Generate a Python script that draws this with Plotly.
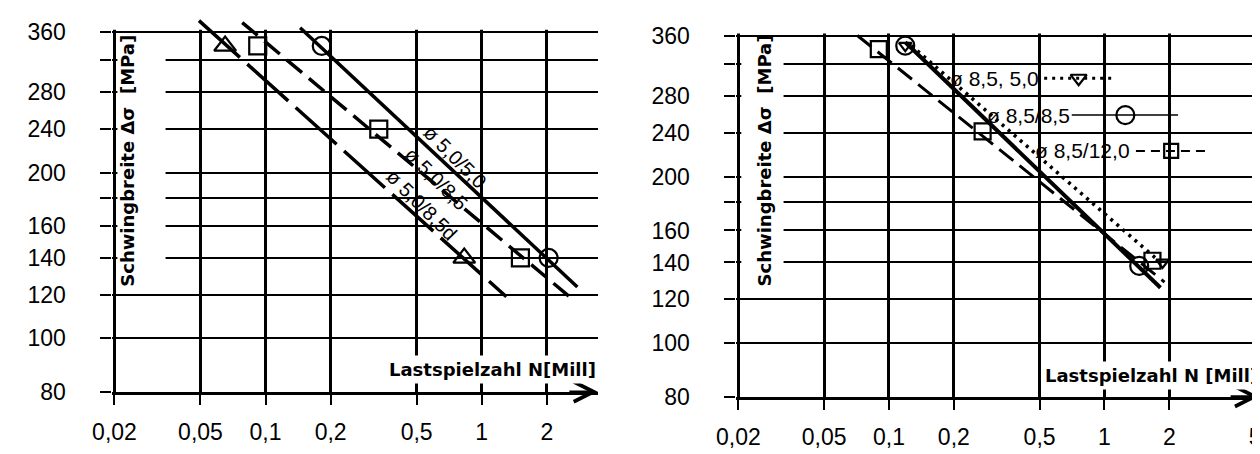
import numpy as np
import plotly.graph_objects as go

W, H = 1260, 454

# ---------------- data ----------------
# left panel: specimens dia 5,0
N_tri_L = [0.065, 0.83]
S_tri_L = [340, 140]
N_sq_L = [0.092, 0.334, 1.51]
S_sq_L = [340, 240, 140]
N_ci_L = [0.182, 2.04]
S_ci_L = [340, 140]
# fitted S-N lines (end points)
N_fit_50_50 = [0.1445, 2.77]
S_fit_50_50 = [367, 124]
N_fit_50_85 = [0.078, 2.55]
S_fit_50_85 = [375, 119]
N_fit_50_85d = [0.0492, 1.30]
S_fit_50_85d = [378, 119]

# right panel: specimens dia 8,5
N_sq_R = [0.0897, 0.272, 1.67]
S_sq_R = [341, 242, 141]
N_ci_R = [0.119, 1.45]
S_ci_R = [346, 138]
N_tr_R = [0.119, 1.86]
S_tr_R = [346, 140]
N_fit_85_85 = [0.119, 1.82]
S_fit_85_85 = [351, 126]
N_fit_85_120 = [0.0713, 1.90]
S_fit_85_120 = [361, 129]
N_fit_85_50 = [0.127, 1.86]
S_fit_85_50 = [346, 139]

# axes ticks
y_tickvals = [80, 100, 120, 140, 160, 180, 200, 240, 280, 320, 360]
y_ticktext = ["80", "100", "120", "140", "160", "", "200", "240", "280", "", "360"]
x_tickvals_L = [0.02, 0.05, 0.1, 0.2, 0.5, 1, 2]
x_ticktext_L = ["0,02", "0,05", "0,1", "0,2", "0,5", "1", "2"]
x_tickvals_R = [0.02, 0.05, 0.1, 0.2, 0.5, 1, 2, 5]
x_ticktext_R = ["0,02", "0,05", "0,1", "0,2", "0,5", "1", "2", "5"]

# legend keys of right panel
leg_labels = ["ø 8,5, 5,0", "ø 8,5/8,5", "ø 8,5/12,0"]
leg_S = [302, 259, 223]
leg_text_N = [0.51, 0.705, 1.346]
leg_line_N = [(0.525, 1.128), (0.705, 2.196), (1.40, 3.10)]
leg_mark_N = [0.759, 1.25, 2.04]

# ---------------- geometry ----------------
PAD = 2


def xgeom(px0, ppd, px_end):
    r0 = np.log10(0.02) - PAD / ppd
    r1 = np.log10(0.02) + (px_end - px0) / ppd
    return [r0, r1], [(px0 - PAD) / W, px_end / W]


def ygeom(py80, ppd, py_top):
    r0 = np.log10(80)
    r1 = np.log10(80) + (py80 - py_top) / ppd
    return [r0, r1], [1 - py80 / H, 1 - py_top / H]


PX0_L, PX0_R = 88, 723
PPD_L, PPD_R = 220.0, 219.3
xr1, xd1 = xgeom(PX0_L, PPD_L, 580)
yr1, yd1 = ygeom(395, 566.4, 10)
xr2, xd2 = xgeom(PX0_R, PPD_R, 1253)
yr2, yd2 = ygeom(400, 568.0, 12)

TICKFONT = dict(family="Liberation Sans, Arial, sans-serif", size=23, color="black")
BOLD = "DejaVu Sans, sans-serif"

fig = go.Figure()


def line(xs, ys, dash, width, xa, ya):
    fig.add_trace(go.Scatter(x=xs, y=ys, mode="lines", xaxis=xa, yaxis=ya,
                             line=dict(color="black", width=width, dash=dash),
                             hoverinfo="skip"))


def pts(xs, ys, sym, size, xa, ya):
    fig.add_trace(go.Scatter(x=xs, y=ys, mode="markers", xaxis=xa, yaxis=ya,
                             cliponaxis=False,
                             marker=dict(symbol=sym, size=size, color="black",
                                         line=dict(color="black", width=2.2)),
                             hoverinfo="skip"))


# left panel
line(N_fit_50_50, S_fit_50_50, "solid", 3.5, "x", "y")
line(N_fit_50_85, S_fit_50_85, "20px,9px", 3.5, "x", "y")
line(N_fit_50_85d, S_fit_50_85d, "55px,10px", 3.5, "x", "y")
pts(N_tri_L, S_tri_L, "triangle-up-open", 19, "x", "y")
pts(N_sq_L, S_sq_L, "square-open", 17, "x", "y")
pts(N_ci_L, S_ci_L, "circle-open", 18, "x", "y")

# right panel
line(N_fit_85_120, S_fit_85_120, "18px,8px", 3.0, "x2", "y2")
line(N_fit_85_85, S_fit_85_85, "solid", 4.0, "x2", "y2")
line(N_fit_85_50, S_fit_85_50, "3px,5px", 3.5, "x2", "y2")
pts(N_sq_R, S_sq_R, "square-open", 16, "x2", "y2")
pts(N_ci_R, S_ci_R, "circle-open", 18, "x2", "y2")
pts(N_tr_R, S_tr_R, "triangle-down-open", 11, "x2", "y2")

# legend keys (right panel)
leg_dash = ["3px,5px", "solid", "9px,6px"]
leg_sym = ["triangle-down-open", "circle-open", "square-open"]
leg_size = [14, 18, 14]
leg_w = [3.0, 1.6, 2.0]
for lab, s, tn, (a, b), mn, d, sy, sz, lw in zip(leg_labels, leg_S, leg_text_N, leg_line_N,
                                                 leg_mark_N, leg_dash, leg_sym, leg_size, leg_w):
    line([a, b], [s, s], d, lw, "x2", "y2")
    pts([mn], [s], sy, sz, "x2", "y2")
    fig.add_annotation(x=np.log10(tn), y=np.log10(s), xref="x2", yref="y2", text=lab,
                       showarrow=False, xanchor="right", yanchor="middle",
                       font=dict(family="Liberation Sans, Arial, sans-serif", size=21, color="black"))

# line labels (left panel)
lab_L = ["ø 5,0/5,0", "ø 5,0/8,5", "ø 5,0/8,5d"]
lab_N = [0.755, 0.619, 0.529]
lab_S = [214, 195, 175]
for t, n, s in zip(lab_L, lab_N, lab_S):
    fig.add_annotation(x=np.log10(n), y=np.log10(s), xref="x", yref="y", text=t,
                       showarrow=False, textangle=45,
                       font=dict(family="Liberation Sans, Arial, sans-serif", size=20, color="black"))


def xaxis(rng, dom, tv, tt, anchor):
    return dict(type="log", range=rng, domain=dom, anchor=anchor,
                tickvals=tv, ticktext=tt, tickfont=TICKFONT,
                showgrid=True, gridcolor="black", gridwidth=2.5,
                showline=True, linecolor="black", linewidth=3,
                ticks="outside", ticklen=10, tickwidth=2, tickcolor="black",
                ticklabelstandoff=8, zeroline=False, fixedrange=True)


def yaxis(rng, dom, anchor):
    return dict(type="log", range=rng, domain=dom, anchor=anchor,
                tickvals=y_tickvals, ticktext=y_ticktext, tickfont=TICKFONT,
                showgrid=True, gridcolor="black", gridwidth=2,
                showline=False, ticks="outside", ticklen=11, tickwidth=2,
                tickcolor="black", ticklabelstandoff=30, zeroline=False, fixedrange=True)


fig.update_layout(
    width=W, height=H, margin=dict(l=0, r=0, t=0, b=0),
    paper_bgcolor="white", plot_bgcolor="white", showlegend=False,
    xaxis=xaxis(xr1, xd1, x_tickvals_L, x_ticktext_L, "y"),
    yaxis=yaxis(yr1, yd1, "x"),
    xaxis2=xaxis(xr2, xd2, x_tickvals_R, x_ticktext_R, "y2"),
    yaxis2=yaxis(yr2, yd2, "x2"),
)

# white masks between grid and traces (data coordinates on log axes):
# above the 360 border, and the gap behind the vertical y titles
for xs, ys, xr, yr, ppd, px0, gap in [("x", "y", xr1, yr1, PPD_L, PX0_L, 140),
                                      ("x2", "y2", xr2, yr2, PPD_R, PX0_R, 769)]:
    fig.add_shape(type="rect", xref=xs, yref=ys, layer="between",
                  x0=10 ** xr[0], x1=10 ** xr[1], y0=364, y1=10 ** yr[1],
                  fillcolor="white", line=dict(width=0))
    fig.add_shape(type="rect", xref=xs, yref=ys, layer="between",
                  x0=0.02 * 10 ** (3 / ppd), x1=0.02 * 10 ** ((gap - px0) / ppd),
                  y0=131, y1=345,
                  fillcolor="white", line=dict(width=0))

# axis arrows
for xs, ys, xr in [("x", "y", xr1), ("x2", "y2", xr2)]:
    fig.add_annotation(x=xr[1], y=np.log10(80), xref=xs, yref=ys, text="",
                       showarrow=True, arrowhead=5, arrowsize=1.5, arrowwidth=2.6,
                       arrowcolor="black", ax=-30, ay=0)

# axis titles
ytitle = "Schwingbreite Δσ  [MPa]"
for xp in [101, 750]:
    fig.add_annotation(x=xp / W, y=1 - 157 / H, xref="paper", yref="paper", text=ytitle,
                       showarrow=False, textangle=-90, xanchor="center", yanchor="middle",
                       font=dict(family=BOLD, size=18, color="black", weight="bold"))
for xr_px, yp, t in [(582, 372, "Lastspielzahl N[Mill]"), (1256, 378, "Lastspielzahl N [Mill]")]:
    fig.add_annotation(x=xr_px / W, y=1 - yp / H, xref="paper", yref="paper", text=t,
                       showarrow=False, xanchor="right", yanchor="middle",
                       bgcolor="white", borderpad=3,
                       font=dict(family=BOLD, size=18, color="black", weight="bold"))

fig.write_html("out.html")
